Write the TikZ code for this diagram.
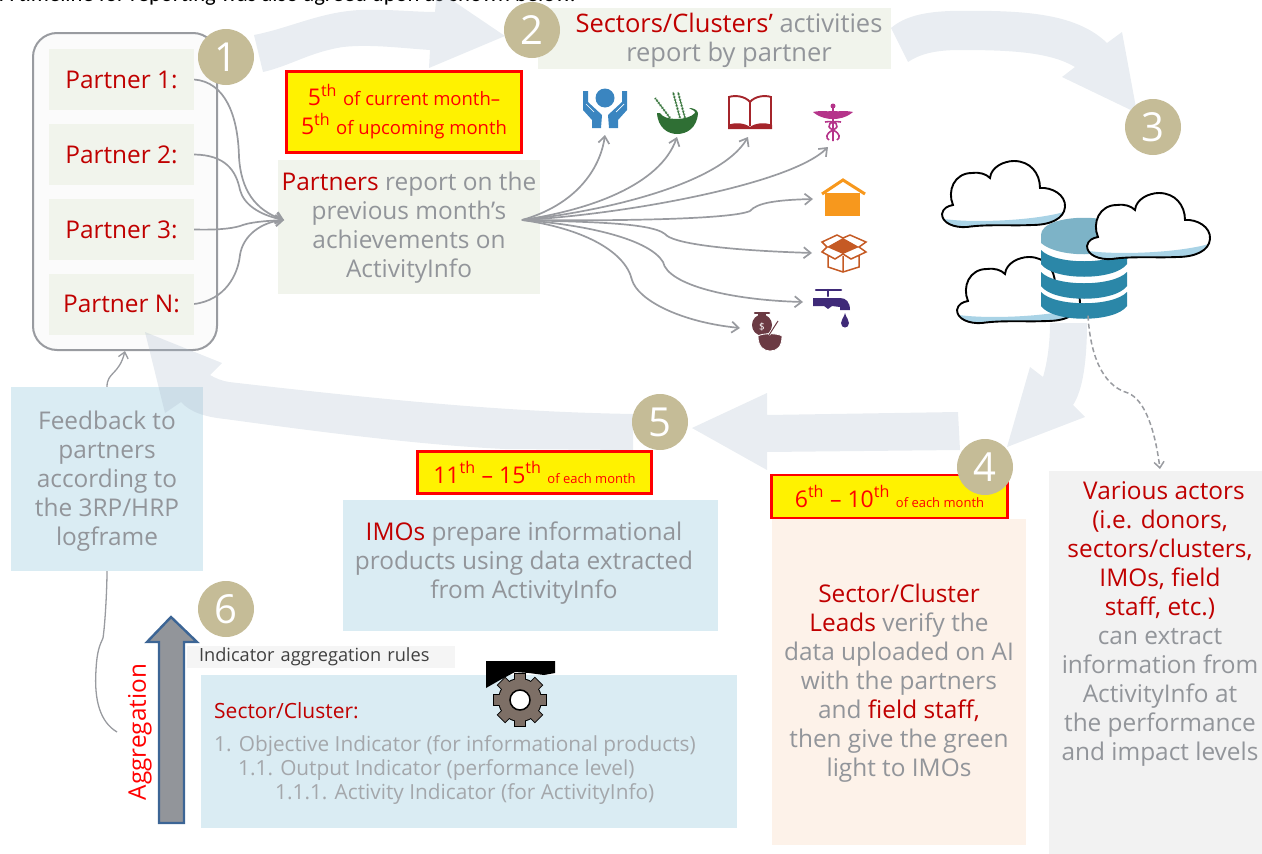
\documentclass[tikz,border=0pt]{standalone}
\usepackage{fontspec}
\setmainfont{Open Sans}
\newfontfamily\captionface{Carlito}
\usetikzlibrary{arrows.meta}
\definecolor{leadred}{HTML}{C00000}
\definecolor{bodygrey}{HTML}{92959A}
\definecolor{paletext}{HTML}{A4A7AB}
\definecolor{framegrey}{HTML}{999BA0}
\definecolor{stepbeige}{HTML}{C5BC97}
\definecolor{flowblue}{HTML}{A7B7CB}
\definecolor{sagefill}{HTML}{F1F4EC}
\definecolor{skyfill}{HTML}{DAECF3}
\definecolor{peachfill}{HTML}{FDF2E9}
\definecolor{ashfill}{HTML}{F2F2F2}
\definecolor{cloudblue}{HTML}{A9D3E6}
\definecolor{drumtop}{HTML}{7DB3C7}
\definecolor{drumband}{HTML}{2B87A8}
\definecolor{handblue}{HTML}{3A85C0}
\definecolor{bowlgreen}{HTML}{2F6F34}
\definecolor{bookred}{HTML}{A5252B}
\definecolor{staffpink}{HTML}{B5348A}
\definecolor{houseorange}{HTML}{F7981D}
\definecolor{crateorange}{HTML}{C55A24}
\definecolor{tappurple}{HTML}{3F2A78}
\definecolor{bagplum}{HTML}{6B3A43}
\definecolor{gearfill}{HTML}{7D6F66}
\definecolor{aggedge}{HTML}{3C6595}
\newcommand{\hl}[1]{\textcolor{leadred}{#1}}
\newcommand{\dt}[1]{{\fontsize{13}{13}\selectfont #1}}
\newcommand{\dtl}[1]{{\fontsize{18.5}{18.5}\selectfont #1}}
\tikzset{
  plainbox/.style={inner sep=0pt, align=center, text=bodygrey,
    font=\fontsize{24.4}{29}\selectfont},
  partnerbox/.style={plainbox, fill=sagefill, text=leadred, minimum width=145, minimum height=61},
  sagebox/.style={plainbox, fill=sagefill},
  skybox/.style={plainbox, fill=skyfill},
  datebox/.style={inner sep=0pt, align=center, text=red, fill=yellow, draw=red, line width=2.5pt,
    font=\fontsize{23}{29}\selectfont},
  stepcircle/.style={circle, inner sep=0pt, minimum size=56, fill=stepbeige, text=white,
    font=\fontsize{40}{40}\selectfont},
  ruletext/.style={anchor=west, inner sep=0pt, text=paletext, font=\fontsize{20.8}{24}\selectfont},
  bigarrow/.style={fill=flowblue, fill opacity=.25, draw=none},
  fanline/.style={draw=framegrey, line width=1.7pt, -{Straight Barb[length=7pt,width=11pt]}},
  thinline/.style={draw=framegrey, line width=1.3pt},
  cloudpic/.pic={
    \path[fill=white] (0,53) .. controls (1,47) and (6,45) .. (11,44) .. controls (5,30) and (12,12) .. (30,12)
      .. controls (38,11) and (44,13) .. (48,17) .. controls (49,6) and (62,0) .. (72,0)
      .. controls (88,0) and (98,12) .. (98,27) .. controls (110,26) and (124,34) .. (123,46)
      .. controls (122,58) and (108,64) .. (90,64) .. controls (70,65) and (45,63) .. (25,66)
      .. controls (12,67) and (0,62) .. (0,53) -- cycle;
    \fill[cloudblue] (2,58) .. controls (30,62) and (90,60) .. (122,51) .. controls (118,60) and (105,64) .. (90,64)
      .. controls (70,65) and (45,63) .. (25,66) .. controls (15,67) and (6,64) .. (2,58) -- cycle;
    \draw[black, line width=1.9pt] (0,53) .. controls (1,47) and (6,45) .. (11,44) .. controls (5,30) and (12,12) .. (30,12)
      .. controls (38,11) and (44,13) .. (48,17) .. controls (49,6) and (62,0) .. (72,0)
      .. controls (88,0) and (98,12) .. (98,27) .. controls (110,26) and (124,34) .. (123,46)
      .. controls (122,58) and (108,64) .. (90,64) .. controls (70,65) and (45,63) .. (25,66)
      .. controls (12,67) and (0,62) .. (0,53) -- cycle;
  }
}
\begin{document}
\begin{tikzpicture}[x=1pt, y=-1pt]
\useasboundingbox (0,0) rectangle (1262,854);
\node[anchor=base west, inner sep=0pt, font=\captionface\fontsize{22.6}{24}\selectfont] (caption) at (0,1)
  {A timeline for reporting was also agreed upon as shown below.};

% partners column
\node[draw=framegrey, line width=2pt, fill=white!98.5!black, rounded corners=24, minimum width=184, minimum height=317] (partnerframe) at (125,191.5) {};
\node[partnerbox] (partnerone) at (121.5,79.5) {Partner 1:};
\node[partnerbox] (partnertwo) at (121.5,154.5) {Partner 2:};
\node[partnerbox] (partnerthree) at (121.5,229.5) {Partner 3:};
\node[partnerbox] (partnern) at (121.5,304) {Partner N:};

% boxes
\node[skybox, minimum width=192, minimum height=184] (feedback) at (107,479) {};
\node[plainbox] (feedbacktext) at (107,481)
  {Feedback to\\partners\\according to\\the 3RP/HRP\\logframe};
\node[sagebox, minimum width=262, minimum height=134] (partners) at (409,227) {};
\node[plainbox] (partnerstext) at (409,228)
  {\hl{Partners} report on the\\previous month's\\achievements on\\ActivityInfo};
\node[sagebox, minimum width=353, minimum height=61] (sectors) at (714.5,38.5) {};
\node[plainbox, font=\fontsize{25.5}{29}\selectfont] (sectorstext) at (729,40)
  {\hl{Sectors/Clusters’} activities\\report by partner};
\node[skybox, minimum width=375, minimum height=131] (imobox) at (530.5,565.5) {};
\node[plainbox] (imotext) at (524,563)
  {\hl{IMOs} prepare informational\\products using data extracted\\from ActivityInfo};
\node[plainbox, fill=peachfill, minimum width=254, minimum height=326] (leads) at (899,681.5) {};
\node[plainbox] (leadstext) at (899,683)
  {\hl{Sector/Cluster}\\\hl{Leads} verify the\\data uploaded on AI\\with the partners\\and \hl{field staff,}\\then give the green\\light to IMOs};
\node[plainbox, fill=ashfill, minimum width=213, minimum height=383] (actors) at (1155.5,662.5) {};
\node[plainbox] (actorstext) at (1160,624)
  {\hspace*{8pt}\hl{Various actors}\\\hl{(i.e. donors,}\\\hl{sectors/clusters,}\\\hl{IMOs, field}\\\hl{staff, etc.)}\\can extract\\information from\\ActivityInfo at\\the performance\\and impact levels};
\node[skybox, minimum width=536, minimum height=153] (rulesbox) at (469,751.5) {};
\node[inner sep=0pt, fill=black!4, text=black!75, minimum width=268, minimum height=22, text width=256,
  font=\fontsize{18.2}{20}\selectfont] (rulestitle) at (321,657) {\hspace*{6pt}Indicator aggregation rules};
\node[anchor=west, inner sep=0pt, text=leadred, font=\fontsize{21}{24}\selectfont] (rulessector) at (214,711) {Sector/Cluster:};
\node[ruletext] (ruleone) at (214,746.5) {1. Objective Indicator (for informational products)};
\node[ruletext] (ruletwo) at (238,770.5) {1.1. Output Indicator (performance level)};
\node[ruletext] (rulethree) at (275,794.5) {1.1.1. Activity Indicator (for ActivityInfo)};

% flow arrows
\path[bigarrow] (254,35) .. controls (290,28) and (320,12) .. (360,10) .. controls (390,9) and (415,12) .. (435,12)
  -- (437,-10) -- (505,36) -- (429,68) -- (430,50) .. controls (400,48) and (370,44) .. (343,47)
  .. controls (310,52) and (290,66) .. (263,72) -- cycle;
\path[bigarrow] (891,28) .. controls (905,16) and (925,12) .. (950,11) .. controls (1020,10) and (1075,12) .. (1107,43)
  -- (1122,32) -- (1137,113) -- (1062,77) -- (1075,67) .. controls (1050,52) and (1010,50) .. (960,50)
  .. controls (935,50) and (920,54) .. (908,62) -- cycle;
\path[bigarrow] (1050,323) -- (1087,323) .. controls (1087,360) and (1083,390) .. (1073,405) -- (1085,417) -- (1007,447)
  -- (1030,367) -- (1043,377) .. controls (1048,360) and (1050,340) .. (1050,323) -- cycle;
\path[bigarrow] (958,412) -- (767,415) -- (767,393) -- (692,428) -- (767,470) -- (767,452) -- (960,450) -- cycle;
\path[bigarrow] (633,414) .. controls (520,412) and (420,404) .. (229,382) .. controls (222,381) and (215,378) .. (210,375)
  -- (222,363) -- (145,332) -- (165,413) -- (181,402) .. controls (190,412) and (205,417) .. (225,419)
  .. controls (320,432) and (420,445) .. (505,449) -- (633,450) -- cycle;

% dates
\node[datebox, minimum width=235, minimum height=81] (datefirst) at (404,112)
  {5\textsuperscript{th} \dtl{of current month–}\\5\textsuperscript{th} \dtl{of upcoming month}};
\node[datebox, minimum width=234, minimum height=42] (datesecond) at (534.5,472.5)
  {11\textsuperscript{th} – 15\textsuperscript{th} \dt{of each month}};
\node[datebox, minimum width=236, minimum height=43] (datethird) at (889.5,496.5)
  {6\textsuperscript{th} – 10\textsuperscript{th} \dt{of each month}};

% numbered steps
\node[stepcircle] (stepone) at (226,57) {1};
\node[stepcircle] (steptwo) at (532,30) {2};
\node[stepcircle] (stepthree) at (1153,127) {3};
\node[stepcircle] (stepfour) at (985,467) {4};
\node[stepcircle] (stepfive) at (660,422) {5};
\node[stepcircle] (stepsix) at (226,609) {6};

% cloud store
\pic at (957,257) {cloudpic};
\fill[drumtop] (1041,235) .. controls (1041,212) and (1127,212) .. (1127,235) -- (1127,243) .. controls (1110,258) and (1058,258) .. (1041,243) -- cycle;
\foreach \y in {250,272,292} {
  \fill[drumband] (1041,\y) .. controls (1055,\y+15) and (1113,\y+15) .. (1127,\y) -- (1127,\y+14)
    .. controls (1115,\y+31) and (1053,\y+31) .. (1041,\y+14) -- cycle;
}
\pic at (942,161) {cloudpic};
\pic at (1087,193) {cloudpic};
\node[minimum width=87, minimum height=97, inner sep=0pt] (database) at (1088,267) {};

% sector icons
\fill[handblue] (605,98) circle (9.5);
\foreach \s in {1,-1} {
  \fill[handblue, xshift=605pt, xscale=\s] (-22,91) -- (-17,91) -- (-17,102) -- (-3,115) -- (-4,128) -- (-13,128) -- (-13,120) -- (-22,110) -- cycle;
  \draw[white, line width=.7pt, xshift=605pt, xscale=\s] (-19,104) -- (-11,112);
}
\draw[bowlgreen!60, line width=2.4pt, dash pattern=on 1.5pt off 1.5pt] (670,118) -- (655,98) (680,118) -- (673,92) (685,118) -- (678,92);
\draw[bowlgreen, line width=.8pt] (670,118) -- (655,98) (680,118) -- (673,92) (685,118) -- (678,92);
\fill[bowlgreen] (657,113) .. controls (658,128) and (668,134) .. (677,134) .. controls (687,134) and (697,128) .. (698,113)
  .. controls (697,109) and (692,108) .. (689,108) .. controls (692,110) and (696,111) .. (695,113) .. controls (688,121) and (664,121) .. (660,113) -- cycle;
\draw[bookred, line width=1.9pt] (750,102) .. controls (745,96) and (735,95) .. (729,97) -- (729,128) (771,128) -- (771,97) .. controls (765,95) and (755,96) .. (750,102) -- (750,126);
\fill[bookred] (728,125) .. controls (735,122) and (745,123) .. (750,127) .. controls (755,123) and (765,122) .. (772,125) -- (772,129) -- (728,129) -- cycle;
\fill[staffpink] (813,112) .. controls (822,110) and (828,112) .. (831,111) -- (835,111) .. controls (838,112) and (844,110) .. (853,112)
  .. controls (846,118) and (838,119) .. (833,119) .. controls (828,119) and (820,118) .. (813,112) -- cycle;
\fill[staffpink] (833,106) circle (2.5);
\draw[staffpink, line width=1.6pt] (833,106) -- (833,141) (825,122) .. controls (835,120) and (842,126) .. (833,130)
  .. controls (825,134) and (826,138) .. (829,140) (841,122) .. controls (831,120) and (824,126) .. (833,130) .. controls (841,134) and (840,138) .. (837,140);
\fill[houseorange] (825,193) rectangle (860,216);
\draw[houseorange, line width=3pt] (822,194) -- (843,180) -- (865,194);
\fill[crateorange] (827,247) -- (843,238) -- (859,247) -- (843,254) -- cycle;
\draw[crateorange, line width=1.5pt] (822,242) -- (837,235) -- (843,238) -- (850,235) -- (866,242) -- (859,247) -- (866,252) -- (851,259) -- (843,254) -- (835,259) -- (822,252) -- (827,247) -- cycle
  (828,255) -- (828,267) -- (843,272) -- (859,267) -- (859,255) (843,256) -- (843,272);
\draw[tappurple, line width=2.5pt, line cap=round] (816,290) -- (841,290) (828,290) -- (828,296);
\fill[tappurple] (813,298) -- (840,298) .. controls (846,298) and (850,302) .. (850,310) -- (840,310) -- (840,307) -- (832,306) -- (828,309) -- (824,306) -- (813,306) -- cycle;
\fill[tappurple] (845,313) .. controls (846,318) and (849,319) .. (849,323) .. controls (849,329) and (841,329) .. (841,323) .. controls (841,319) and (844,318) .. (845,313) -- cycle;
\fill[bagplum] (762,325) ellipse (10 and 10.5);
\draw[bagplum, line width=2.5pt, line cap=round] (755,313) -- (769,313);
\fill[bagplum] (758,314) rectangle (766,318);
\node[inner sep=0pt, text=white, font=\fontsize{10}{10}\selectfont] (bagsign) at (762,327) {\$};
\path[fill=bagplum, draw=white, line width=.8pt] (758,336) .. controls (758,347) and (764,351) .. (770,351) .. controls (777,351) and (782,347) .. (782,336)
  .. controls (778,333) and (762,333) .. (758,336) -- cycle;
\draw[white, line width=2.2pt] (769,335) -- (778,321);
\draw[bagplum, line width=1pt] (769,335) -- (778,321);

% fixed connector ends
\coordinate (partnersin) at (284,220);
\coordinate (partnersout) at (522,220);
\coordinate (handsicon) at (605,135);
\coordinate (bowlicon) at (677,137);
\coordinate (bookicon) at (748,137);
\coordinate (staffon) at (828,147);
\coordinate (houseicon) at (813,199);
\coordinate (boxicon) at (812,253);
\coordinate (tapicon) at (803,302);
\coordinate (bagicon) at (740,328);
\coordinate (actorsin) at (1160,469);
\coordinate (aggfoot) at (117,732);

% connectors
\draw[fanline] (partnerone.east) .. controls (225,82) and (238,115) .. (239,157) .. controls (241,190) and (255,210) .. (partnersin);
\draw[fanline] (partnertwo.east) .. controls (225,155) and (236,170) .. (240,190) .. controls (244,205) and (260,215) .. (partnersin);
\draw[fanline] (partnerthree.east) .. controls (215,230) and (230,229) .. (240,226) .. controls (250,222) and (265,221) .. (partnersin);
\draw[fanline] (partnern.east) .. controls (225,300) and (238,275) .. (240,255) .. controls (243,235) and (262,222) .. (partnersin);
\draw[fanline] (partnersout) .. controls (575,205) and (600,170) .. (handsicon);
\draw[fanline] (partnersout) .. controls (590,210) and (660,185) .. (bowlicon);
\draw[fanline] (partnersout) .. controls (600,212) and (720,185) .. (bookicon);
\draw[fanline] (partnersout) .. controls (620,215) and (790,185) .. (staffon);
\draw[fanline] (partnersout) .. controls (600,221) and (730,220) .. (750,211) .. controls (757,203) and (775,200) .. (houseicon);
\draw[fanline] (partnersout) .. controls (580,222) and (650,222) .. (665,234) .. controls (672,243) and (720,250) .. (boxicon);
\draw[fanline] (partnersout) .. controls (590,225) and (650,240) .. (663,262) .. controls (668,285) and (730,300) .. (tapicon);
\draw[fanline] (partnersout) .. controls (580,228) and (625,250) .. (632,280) .. controls (638,300) and (680,322) .. (bagicon);
\draw[thinline, -{Straight Barb[length=6pt,width=10pt]}] (feedback.north) .. controls (107,372) and (119,375) .. (partnerframe.south);
\draw[thinline] (aggfoot) .. controls (100,722) and (94,700) .. (96,670) .. controls (97,650) and (100,645) .. (103,638) .. controls (105,625) and (107,590) .. (feedback.south);
\draw[thinline, line width=1.5pt, dash pattern=on 5pt off 3pt, -{Straight Barb[length=6pt,width=10pt]}] (database.south) .. controls (1090,350) and (1100,385) .. (1128,393) .. controls (1145,400) and (1155,430) .. (actorsin);

% aggregation arrow
\draw[fill=bodygrey, draw=aggedge, line width=2.4pt] (159,823) -- (159,642) -- (147,642) -- (171,617) -- (197,642) -- (184,642) -- (184,823) -- cycle;
\node[rotate=90, inner sep=0pt, text=red, font=\fontsize{24.3}{24}\selectfont] (aggregation) at (140,732) {Aggregation};

% gear
\fill[black] (486,661) -- (555,661) -- (555,673) -- (544,675) -- (529,673) -- (515,672) -- (500,680) -- (486,688) -- cycle;
\foreach \a in {0,45,...,315} {
  \draw[draw=black, fill=black, line width=2pt, rotate around={\a:(520,700)}] (515,674) rectangle (525,682);
}
\fill[black] (520,700) circle (22);
\foreach \a in {0,45,...,315} {
  \fill[gearfill, rotate around={\a:(520,700)}] (515,674) rectangle (525,684);
}
\fill[gearfill] (520,700) circle (21);
\draw[fill=white, draw=black, line width=1.5pt] (520,700) circle (10);
\end{tikzpicture}
\end{document}
